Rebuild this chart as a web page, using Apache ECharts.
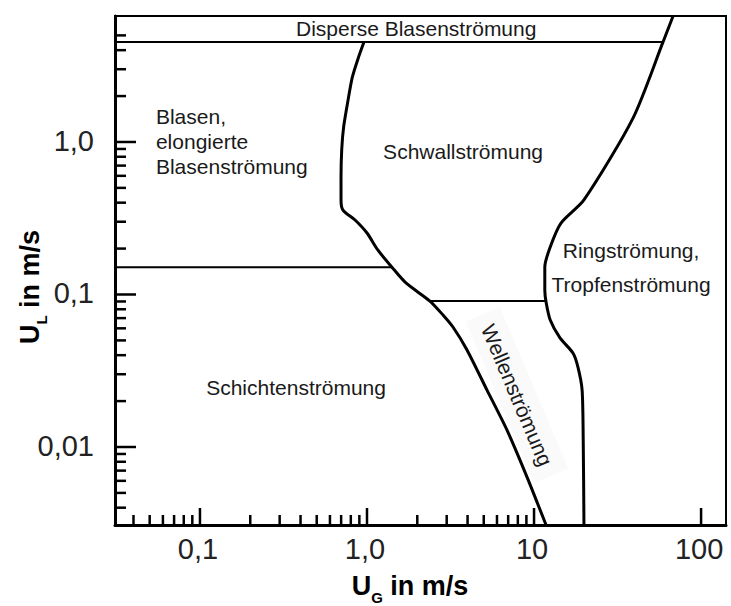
<!DOCTYPE html>
<html><head><meta charset="utf-8">
<script src="https://cdn.jsdelivr.net/npm/echarts@6/dist/echarts.min.js"></script>
<style>html,body{margin:0;padding:0;background:#fff}#c{width:731px;height:606px}</style>
</head><body><div id="c"></div>
<script>
// ---------- data ----------
const X_MIN = 0.031, X_MAX = 141, Y_MIN = 0.00308, Y_MAX = 6.7;

const xTickValues = [0.1, 1, 10, 100];
const xTickLabels = ['0,1', '1,0', '10', '100'];
const xMinorTicks = [0.04,0.05,0.06,0.07,0.08,0.09, 0.2,0.3,0.4,0.5,0.6,0.7,0.8,0.9, 2,3,4,5,6,7,8,9];
const yTickValues = [0.01, 0.1, 1];
const yTickLabels = ['0,01', '0,1', '1,0'];
const yMinorTicks = [0.004,0.005,0.006,0.007,0.008,0.009, 0.02,0.03,0.04,0.05,0.06,0.07,0.08,0.09, 0.2,0.3,0.4,0.5,0.6,0.7,0.8,0.9, 2,3,4,5];

// boundary: bubble/stratified  ->  slug/wave
const slugBoundaryUG = [0.959, 0.890, 0.817, 0.770, 0.725, 0.706, 0.699, 0.699, 0.718, 0.848, 1.0, 1.16, 1.41, 1.71, 2.38, 2.85, 3.27, 3.97, 5.23, 6.89, 9.08, 11.8];
const slugBoundaryUL = [4.53, 3.60, 2.66, 1.88, 1.26, 0.896, 0.594, 0.417, 0.358, 0.308, 0.253, 0.196, 0.151, 0.119, 0.0906, 0.0734, 0.0612, 0.0433, 0.0236, 0.0129, 0.00635, 0.00308];
// boundary: slug/wave  ->  annular
const annularBoundaryUG = [68.0, 59.2, 39.2, 19.9, 14.5, 12.5, 11.6, 11.6, 11.8, 12.5, 14.3, 17.1, 18.3, 19.4, 19.7, 19.9];
const annularBoundaryUL = [6.70, 4.53, 1.44, 0.417, 0.294, 0.205, 0.151, 0.107, 0.0893, 0.0680, 0.0519, 0.0413, 0.0335, 0.0236, 0.0111, 0.00308];
// horizontal boundaries
const disperseLineUG = [X_MIN, 59.2];
const disperseLineUL = [4.53, 4.53];
const stratifiedLineUG = [X_MIN, 1.41];
const stratifiedLineUL = [0.151, 0.151];
const waveLineUG = [2.38, 11.7];
const waveLineUL = [0.0906, 0.0906];

const regionNames = ['Disperse Blasenströmung', 'Blasen,\nelongierte\nBlasenströmung', 'Schwallströmung',
  'Ringströmung,\nTropfenströmung', 'Schichtenströmung', 'Wellenströmung'];

// ---------- layout (label anchors in data units, styles) ----------
const regionLayout = [
  {ug: 1.97,  ul: 5.51,  align: 'center', lh: 25, rot: 0},
  {ug: 0.0545, ul: 1.0,  align: 'left',   lh: 25, rot: 0},
  {ug: 3.76,  ul: 0.86,  align: 'center', lh: 25, rot: 0},
  {ug: 38.1,  ul: 0.151, align: 'center', lh: 34, rot: 0},
  {ug: 0.376, ul: 0.0247, align: 'center', lh: 25, rot: 0},
  {ug: 7.91,  ul: 0.0219, align: 'center', lh: 25, rot: -67, bg: '#fafafa'}
];
const FONT = "'Liberation Sans', Arial, sans-serif";

function pairs(a, b) { return a.map((v, i) => [v, b[i]]); }

function lineSeries(ug, ul, width, smooth) {
  return {type: 'line', data: pairs(ug, ul), symbol: 'none', smooth: smooth, silent: true,
    lineStyle: {color: '#000', width: width}, z: 3, animation: false};
}

function tickSeries(values, axis, len, width) {
  return {type: 'custom', coordinateSystem: 'cartesian2d', clip: false, silent: true, z: 6, animation: false,
    data: values.map(v => axis === 'x' ? [v, Y_MIN] : [X_MIN, v]),
    renderItem: (params, api) => {
      const p = api.coord([api.value(0), api.value(1)]);
      const shape = axis === 'x' ? {x1: p[0], y1: p[1], x2: p[0], y2: p[1] - len}
                                 : {x1: p[0], y1: p[1], x2: p[0] + len, y2: p[1]};
      return {type: 'line', shape: shape, style: {stroke: '#000', lineWidth: width}};
    }};
}

function tickLabelSeries(values, labels, axis) {
  return {type: 'custom', coordinateSystem: 'cartesian2d', clip: false, silent: true, z: 6, animation: false,
    data: values.map(v => axis === 'x' ? [v, Y_MIN] : [X_MIN, v]),
    renderItem: (params, api) => {
      const p = api.coord([api.value(0), api.value(1)]);
      const t = labels[params.dataIndex];
      return axis === 'x'
        ? {type: 'text', x: p[0] - 2, y: p[1] + 24, style: {text: t, fill: '#222', fontSize: 29, fontFamily: FONT, align: 'center', verticalAlign: 'middle'}}
        : {type: 'text', x: p[0] - 21, y: p[1] - 1, style: {text: t, fill: '#222', fontSize: 29, fontFamily: FONT, align: 'right', verticalAlign: 'middle'}};
    }};
}

const regionSeries = {
  type: 'custom', coordinateSystem: 'cartesian2d', clip: false, silent: true, z: 4, animation: false,
  data: regionLayout.map(r => [r.ug, r.ul]),
  renderItem: (params, api) => {
    const i = params.dataIndex, r = regionLayout[i];
    const p = api.coord([api.value(0), api.value(1)]);
    const style = {text: regionNames[i], fill: '#1a1a1a', fontSize: 21, fontFamily: FONT,
      align: r.align, verticalAlign: 'middle', lineHeight: r.lh};
    if (r.bg) { style.backgroundColor = r.bg; style.padding = [6, 12]; }
    return {type: 'text', x: p[0], y: p[1], rotation: r.rot * Math.PI / 180, style: style};
  }
};

const titleRich = {
  u: {fontSize: 27, fontWeight: 'bold', fontFamily: FONT, fill: '#000', color: '#000'},
  s: {fontSize: 15, fontWeight: 'bold', fontFamily: FONT, fill: '#000', color: '#000', padding: [22, 0, 0, 0]}
};

const chart = echarts.init(document.getElementById('c'), null, {renderer: 'svg'});
chart.setOption({
  animation: false,
  backgroundColor: '#fff',
  grid: {left: 115, right: 5, top: 16, bottom: 81, show: true, borderColor: '#000', borderWidth: 2, backgroundColor: 'transparent'},
  xAxis: {type: 'log', logBase: 10, min: X_MIN, max: X_MAX,
    axisLine: {show: true, lineStyle: {color: '#000', width: 3}}, axisTick: {show: false},
    axisLabel: {show: false}, splitLine: {show: false}},
  yAxis: {type: 'log', logBase: 10, min: Y_MIN, max: Y_MAX,
    axisLine: {show: true, lineStyle: {color: '#000', width: 3}}, axisTick: {show: false},
    axisLabel: {show: false}, splitLine: {show: false}},
  series: [
    lineSeries(disperseLineUG, disperseLineUL, 2, false),
    lineSeries(stratifiedLineUG, stratifiedLineUL, 2, false),
    lineSeries(waveLineUG, waveLineUL, 2, false),
    lineSeries(slugBoundaryUG, slugBoundaryUL, 3, 0.25),
    lineSeries(annularBoundaryUG, annularBoundaryUL, 3, 0.25),
    regionSeries,
    tickSeries(xTickValues, 'x', 17, 2.5),
    tickSeries(xMinorTicks, 'x', 10, 2.5),
    tickSeries(yTickValues, 'y', 21, 2.5),
    tickSeries(yMinorTicks, 'y', 11, 2.5),
    tickLabelSeries(xTickValues, xTickLabels, 'x'),
    tickLabelSeries(yTickValues, yTickLabels, 'y')
  ],
  graphic: [
    {type: 'text', x: 410, y: 586, z: 100, style: {text: '{u|U}{s|G}{u| in m/s}', rich: titleRich, align: 'center', verticalAlign: 'middle'}},
    {type: 'text', x: 30, y: 287, z: 100, rotation: Math.PI / 2, style: {text: '{u|U}{s|L}{u| in m/s}', rich: titleRich, align: 'center', verticalAlign: 'middle'}}
  ]
});
</script></body></html>
